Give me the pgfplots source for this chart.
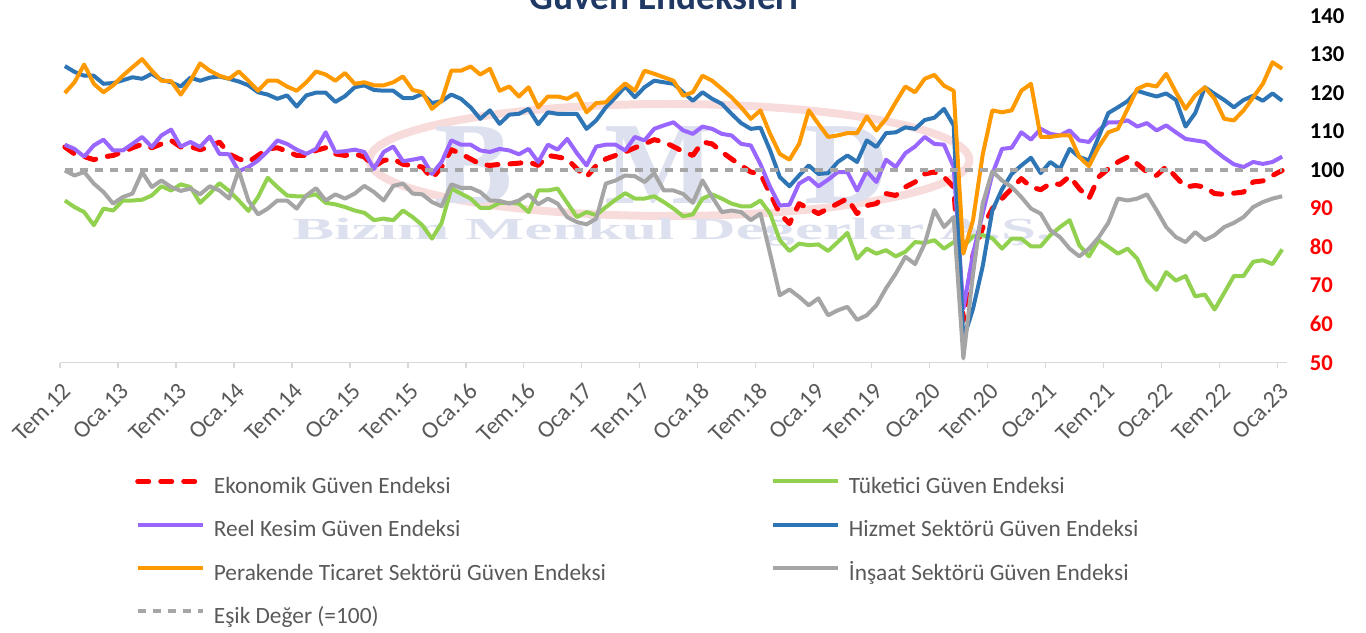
\documentclass[border=0pt]{standalone}
\usepackage{fontspec}
\setmainfont{Carlito}
\newfontfamily\wmfont{Liberation Serif}
\usepackage{pgfplots}
\usepackage{pgfplotstable}
\pgfplotsset{compat=1.18}

\definecolor{ekored}{HTML}{FF0000}
\definecolor{tukgreen}{HTML}{92D050}
\definecolor{reelpurple}{HTML}{9966FF}
\definecolor{hizblue}{HTML}{2E75B6}
\definecolor{perorange}{HTML}{FF9900}
\definecolor{insgray}{HTML}{A5A5A5}
\definecolor{esikgray}{HTML}{A6A6A6}
\definecolor{axisgray}{HTML}{D9D9D9}
\definecolor{labelgray}{HTML}{595959}
\definecolor{titleblue}{HTML}{1F3864}
\definecolor{wmblue}{HTML}{DDE0EE}
\definecolor{wmred}{HTML}{F8DCDC}

% month index 0 = Tem.12 ... 126 = Oca.23
\pgfplotstableread{
m eko tuk reel hiz per ins
0 106.0 92.1 106.6 127.0 120.0 99.9
1 104.2 90.4 105.5 125.5 122.8 98.6
2 103.5 89.1 103.5 124.5 127.4 99.5
3 102.7 85.7 106.4 124.5 122.4 96.5
4 103.4 90.0 107.9 122.4 120.2 94.3
5 103.8 89.5 105.1 122.6 122.0 91.3
6 104.7 92.1 105.1 123.3 124.5 93.0
7 105.8 92.1 106.8 124.1 126.7 93.9
8 106.7 92.3 108.6 123.7 128.8 99.5
9 105.8 93.4 106.0 125.0 125.8 95.6
10 106.8 95.8 109.0 123.4 123.2 97.3
11 107.7 94.7 110.5 122.8 123.1 95.6
12 106.0 96.3 106.1 121.7 119.6 94.6
13 106.1 95.6 107.3 124.0 123.2 95.2
14 105.3 91.5 106.0 123.2 127.7 93.7
15 106.0 93.9 108.7 124.0 125.8 95.8
16 107.3 96.6 104.2 124.3 124.5 94.7
17 104.2 94.6 104.1 123.7 123.7 92.6
18 102.9 92.1 99.7 123.0 125.6 99.9
19 102.1 89.4 100.8 122.0 123.2 92.1
20 103.8 93.0 102.5 120.2 120.6 88.5
21 105.5 98.0 104.9 119.6 123.2 90.0
22 105.8 95.6 107.7 118.5 123.2 92.1
23 104.9 93.4 106.8 119.4 121.7 92.1
24 103.8 93.2 105.3 116.5 120.6 90.0
25 103.8 93.2 104.2 119.4 122.8 93.4
26 105.1 93.7 105.5 120.1 125.6 95.3
27 105.8 91.5 109.8 120.1 124.8 92.1
28 104.2 91.1 104.7 117.7 123.2 93.7
29 103.8 90.4 104.9 119.2 125.2 92.6
30 104.2 89.5 105.3 121.5 122.4 93.9
31 103.4 88.9 104.7 122.0 122.8 95.9
32 100.9 87.0 100.3 120.8 122.0 94.3
33 102.5 87.4 104.7 120.6 122.0 92.1
34 102.9 87.0 106.1 120.6 122.8 95.9
35 101.5 89.5 102.3 118.7 124.3 96.5
36 101.2 87.8 102.7 118.7 120.8 93.9
37 100.8 85.7 103.2 119.8 120.2 93.7
38 97.8 82.2 99.0 117.4 115.9 91.7
39 100.8 86.3 102.1 117.9 118.0 90.6
40 105.3 95.2 107.7 119.6 125.8 96.3
41 104.2 93.9 106.6 118.5 125.8 95.4
42 102.9 92.6 106.6 116.3 126.9 95.4
43 101.5 90.2 105.1 113.3 124.8 94.3
44 101.2 90.2 104.7 115.5 126.3 92.1
45 101.5 91.5 105.5 112.0 120.6 92.0
46 101.6 91.5 105.1 114.4 121.7 91.3
47 101.8 91.3 104.1 114.6 119.1 92.1
48 102.1 89.1 105.5 115.9 121.5 93.7
49 101.2 94.7 102.1 111.9 116.3 91.1
50 103.8 94.7 106.6 115.0 119.1 92.6
51 103.4 95.2 105.3 114.6 119.1 91.3
52 102.9 91.5 108.1 114.6 118.5 87.8
53 100.3 87.8 104.4 114.6 119.9 86.5
54 98.2 89.1 101.2 110.7 115.0 85.9
55 101.2 88.3 106.1 112.9 117.4 87.4
56 102.9 90.4 106.6 116.3 117.6 96.5
57 103.8 92.3 106.6 118.9 120.2 97.3
58 104.7 94.0 105.1 121.7 122.5 98.6
59 105.8 92.6 108.6 118.9 120.6 98.4
60 106.8 92.6 107.7 121.5 125.8 96.9
61 107.9 93.2 110.7 123.2 125.0 99.2
62 107.3 91.7 111.6 122.8 124.1 94.7
63 106.1 90.0 112.4 122.4 123.2 94.7
64 104.8 88.0 110.3 120.2 119.3 93.8
65 103.8 88.5 109.4 118.0 120.2 91.5
66 107.3 92.6 111.3 120.2 124.5 97.3
67 106.8 93.7 110.7 118.5 123.2 93.0
68 104.7 92.6 109.4 117.2 121.1 89.1
69 102.9 91.3 109.0 114.6 118.9 89.5
70 101.2 90.6 106.8 112.2 116.3 89.1
71 99.5 90.6 106.4 110.7 113.3 87.0
72 99.0 92.1 101.5 111.0 115.5 88.7
73 93.9 88.7 95.6 105.1 109.4 78.3
74 88.7 81.8 90.8 98.2 104.2 67.5
75 86.1 79.0 91.0 95.8 102.7 69.0
76 91.3 80.9 96.5 98.6 106.8 67.1
77 90.0 80.5 98.0 101.2 115.5 64.9
78 88.7 80.7 95.8 99.0 112.0 66.7
79 90.0 79.0 97.5 99.2 108.6 62.3
80 91.3 81.3 99.5 102.1 109.0 63.6
81 92.6 83.7 99.5 103.8 109.6 64.5
82 88.7 77.0 94.7 102.1 109.6 61.1
83 90.8 79.6 99.7 107.7 113.9 62.3
84 91.3 78.3 96.9 106.0 110.3 64.9
85 93.9 79.2 102.7 109.6 113.3 69.3
86 93.4 77.6 100.8 109.8 117.6 73.1
87 95.6 78.8 104.4 111.1 121.7 77.5
88 96.9 81.3 106.1 110.7 120.2 75.6
89 99.0 81.1 108.6 113.0 123.7 80.9
90 99.5 81.8 106.8 113.6 124.7 89.6
91 98.2 79.6 106.6 115.9 121.9 85.2
92 95.6 81.3 100.8 111.6 120.6 87.8
93 61.0 80.1 64.0 56.0 78.3 51.1
94 78.0 82.8 78.3 64.0 87.0 73.0
95 85.0 83.1 88.7 75.0 104.0 91.3
96 90.0 82.3 99.0 89.5 115.5 99.7
97 92.6 79.6 105.5 95.0 115.0 97.3
98 95.2 82.2 105.8 99.0 115.5 95.6
99 97.8 82.2 109.8 101.2 120.6 93.0
100 95.6 80.2 107.9 103.2 122.4 90.0
101 94.9 80.2 110.7 99.2 108.6 88.7
102 96.5 83.1 109.4 102.1 108.6 84.4
103 96.3 85.2 109.0 100.3 109.0 82.6
104 98.4 87.0 110.3 105.5 109.0 79.6
105 95.2 80.5 107.7 103.4 103.4 77.6
106 92.6 77.6 107.3 102.5 101.0 79.6
107 98.2 81.8 110.3 108.6 106.0 82.5
108 100.3 80.1 112.4 114.8 109.8 86.3
109 102.1 78.3 112.4 116.3 110.7 92.6
110 103.4 79.6 112.9 117.9 115.9 92.1
111 101.6 77.0 111.3 120.6 121.1 92.6
112 99.5 71.5 112.2 119.8 122.2 93.7
113 98.6 68.9 110.3 119.1 121.7 89.6
114 100.9 73.5 111.6 119.9 125.0 85.2
115 98.2 71.3 109.8 118.2 120.2 82.6
116 95.6 72.5 108.1 111.3 115.9 81.3
117 96.0 67.2 107.7 114.8 119.4 83.9
118 95.6 67.7 107.3 121.5 121.5 81.8
119 93.9 63.8 105.1 119.8 118.5 83.1
120 93.7 68.1 103.2 118.2 113.3 85.2
121 94.0 72.5 101.5 116.3 112.9 86.3
122 94.3 72.5 100.8 118.2 115.5 87.8
123 96.9 76.2 102.1 119.3 118.9 90.4
124 97.2 76.6 101.6 118.0 122.4 91.7
125 98.6 75.6 102.1 119.9 128.0 92.6
126 99.9 79.4 103.5 118.0 126.3 93.2
}\guven

\begin{document}
\begin{tikzpicture}
% faint watermark behind the chart
\draw[wmred, line width=6pt] (457pt,152pt) ellipse (225pt and 42pt);
\node[wmblue, font=\wmfont\bfseries\fontsize{88}{88}\selectfont] at (310pt,148pt) {B};
\node[wmblue, font=\wmfont\bfseries\fontsize{88}{88}\selectfont] at (450pt,148pt) {M};
\node[wmblue, font=\wmfont\bfseries\fontsize{88}{88}\selectfont] at (590pt,148pt) {D};
\node[wmblue, xscale=2.05, font=\wmfont\bfseries\fontsize{23}{23}\selectfont] at (459pt,98pt) {Bizim Menkul Değerler A.Ş.};

\begin{axis}[
  at={(0pt,0pt)}, anchor=south west,
  scale only axis, width=920.25pt, height=260pt,
  xmin=-0.5, xmax=126.5, ymin=50, ymax=140,
  axis x line*=bottom, axis y line*=right,
  x axis line style={-, draw=axisgray, line width=1.1pt},
  y axis line style={draw=none},
  xtick={0,6,...,126},
  xticklabels={Tem.12,Oca.13,Tem.13,Oca.14,Tem.14,Oca.15,Tem.15,Oca.16,Tem.16,Oca.17,Tem.17,Oca.18,Tem.18,Oca.19,Tem.19,Oca.20,Tem.20,Oca.21,Tem.21,Oca.22,Tem.22,Oca.23},
  minor xtick={-0.5,5.5,...,125.5},
  tick align=outside,
  major tick length=0pt, minor tick length=4pt,
  minor x tick style={draw=axisgray, line width=1.1pt},
  xticklabel style={xshift=-2.5pt, yshift=-14pt, rotate=45, anchor=north east,
    inner sep=0pt, font=\fontsize{18}{21}\selectfont, text=labelgray},
  ytick={50,60,...,140},
  yticklabels={\textcolor{ekored}{50},\textcolor{ekored}{60},\textcolor{ekored}{70},\textcolor{ekored}{80},\textcolor{ekored}{90},100,110,120,130,140},
  ytick style={draw=none},
  yticklabel style={anchor=west, inner sep=0pt, xshift=17pt,
    font=\fontsize{17}{20}\selectfont\bfseries},
  legend columns=2,
  legend cell align=left,
  legend style={at={(axis description cs:0.0611,-0.33)}, anchor=north west,
    draw=none, fill=none, inner sep=0pt, column sep=0pt, row sep=16.5pt,
    font=\fontsize{17.5}{20}\selectfont,
    nodes={inner sep=0pt, text height=12pt, text depth=4pt, text=labelgray}},
  legend image code/.code={\draw[#1] (0pt,5pt) -- (48.75pt,5pt);},
  no markers, line join=round,
]
\addplot[ekored, line width=3.75pt, line cap=round, dash pattern=on 8.25pt off 9pt]
  table[x=m, y=eko] {\guven};
\addlegendentry{\makebox[424.5pt][l]{\hspace*{6.5pt}Ekonomik Güven Endeksi}}
\addplot[tukgreen, line width=3pt] table[x=m, y=tuk] {\guven};
\addlegendentry{\hspace*{6.5pt}Tüketici Güven Endeksi}
\addplot[reelpurple, line width=3pt] table[x=m, y=reel] {\guven};
\addlegendentry{\makebox[424.5pt][l]{\hspace*{6.5pt}Reel Kesim Güven Endeksi}}
\addplot[hizblue, line width=3pt] table[x=m, y=hiz] {\guven};
\addlegendentry{\hspace*{6.5pt}Hizmet Sektörü Güven Endeksi}
\addplot[perorange, line width=3pt] table[x=m, y=per] {\guven};
\addlegendentry{\makebox[424.5pt][l]{\hspace*{6.5pt}Perakende Ticaret Sektörü Güven Endeksi}}
\addplot[insgray, line width=3pt] table[x=m, y=ins] {\guven};
\addlegendentry{\hspace*{6.5pt}İnşaat Sektörü Güven Endeksi}
\addplot[esikgray, line width=3pt, dash pattern=on 6.25pt off 5pt]
  coordinates {(0,100) (126,100)};
\addlegendentry{\makebox[424.5pt][l]{\hspace*{6.5pt}Eşik Değer (=100)}}
\end{axis}

% title, mostly cut off by the top edge as in the source
\node[anchor=base, text=titleblue, font=\fontsize{28}{32}\selectfont\bfseries] at (453pt,264.5pt) {Güven Endeksleri};

\pgfresetboundingbox
\path[use as bounding box] (-45pt,-202pt) rectangle (979.5pt,272pt);
\end{tikzpicture}
\end{document}
